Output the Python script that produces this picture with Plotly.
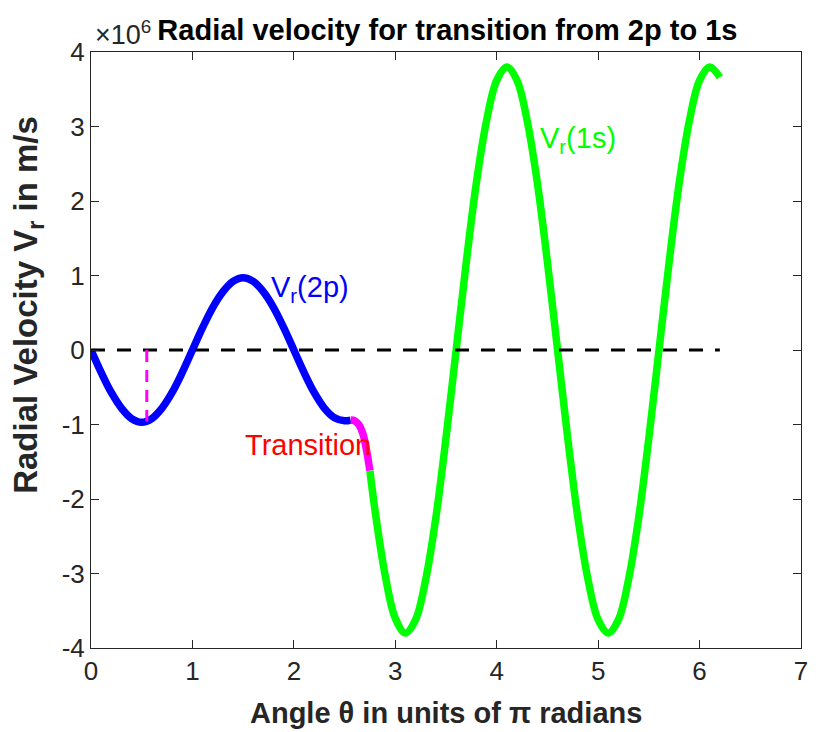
import plotly.graph_objects as go

# Angle in units of pi radians; radial velocity in units of 1e6 m/s
theta_2p = [0.0, 0.1, 0.2, 0.3, 0.4, 0.5, 0.6, 0.7, 0.8, 0.9, 1.0, 1.1, 1.2, 1.3,
            1.4, 1.5, 1.6, 1.7, 1.8, 1.9, 2.0, 2.1, 2.2, 2.3, 2.4, 2.5, 2.56]
vr_2p = [0.00, -0.30, -0.57, -0.78, -0.92, -0.97, -0.92, -0.78, -0.57, -0.30, 0.00,
         0.30, 0.57, 0.78, 0.92, 0.97, 0.92, 0.78, 0.57, 0.30, 0.00,
         -0.30, -0.57, -0.78, -0.91, -0.95, -0.94]

theta_tr = [2.56, 2.60, 2.64, 2.68, 2.71, 2.73, 2.75]
vr_tr = [-0.94, -0.95, -1.00, -1.12, -1.30, -1.45, -1.62]

theta_1s = [2.75, 2.8, 2.9, 3.0, 3.1, 3.2, 3.3, 3.4, 3.5, 3.6, 3.7, 3.8, 3.9, 4.0,
            4.1, 4.2, 4.3, 4.4, 4.5, 4.6, 4.7, 4.8, 4.9, 5.0, 5.1, 5.2, 5.3, 5.4,
            5.5, 5.6, 5.7, 5.8, 5.9, 6.0, 6.1, 6.2]
vr_1s = [-1.62, -2.15, -3.02, -3.60, -3.80, -3.62, -3.08, -2.25, -1.18, 0.00,
         1.18, 2.25, 3.08, 3.62, 3.80, 3.62, 3.08, 2.25, 1.18, 0.00,
         -1.18, -2.25, -3.08, -3.62, -3.80, -3.62, -3.08, -2.25, -1.18, 0.00,
         1.18, 2.25, 3.08, 3.62, 3.80, 3.66]

zero_x = [0.0, 6.2]
zero_y = [0.0, 0.0]
min_marker_x = [0.55, 0.55]
min_marker_y = [0.0, -0.96]

x_ticks = [0, 1, 2, 3, 4, 5, 6, 7]
y_ticks = [-4, -3, -2, -1, 0, 1, 2, 3, 4]

FONT = "Liberation Sans, Arial, Helvetica, sans-serif"
AXC = "#262626"

fig = go.Figure()
fig.add_trace(go.Scatter(x=theta_2p, y=vr_2p, mode="lines", line_shape="spline",
                         line=dict(color="#0000FF", width=7.5)))
fig.add_trace(go.Scatter(x=theta_tr, y=vr_tr, mode="lines", line_shape="spline",
                         line=dict(color="#FF00FF", width=7.5)))
fig.add_trace(go.Scatter(x=theta_1s, y=vr_1s, mode="lines", line_shape="spline",
                         line=dict(color="#00FF00", width=7.5)))
fig.add_trace(go.Scatter(x=zero_x, y=zero_y, mode="lines",
                         line=dict(color="#000000", width=3, dash="14px,12px")))
fig.add_trace(go.Scatter(x=min_marker_x, y=min_marker_y, mode="lines",
                         line=dict(color="#FF00FF", width=3, dash="12px,8px")))

axis_common = dict(showgrid=False, zeroline=False, showline=True, mirror="ticks",
                   linecolor=AXC, linewidth=1, ticks="inside", ticklen=8,
                   tickcolor=AXC, tickfont=dict(family=FONT, size=26, color=AXC))
fig.update_xaxes(range=[0, 7], tickvals=x_ticks, ticktext=[str(v) for v in x_ticks],
                 **axis_common)
fig.update_yaxes(range=[-4, 4], tickvals=y_ticks, ticktext=[str(v) for v in y_ticks],
                 **axis_common)

ann_font = dict(family=FONT, size=29)
fig.add_annotation(x=1.75, y=0.82, xref="x", yref="y", text="V<sub>r</sub>(2p)",
                   showarrow=False, xanchor="left", yanchor="middle",
                   font=dict(color="#0000FF", **ann_font))
fig.add_annotation(x=1.50, y=-1.28, xref="x", yref="y", text="Transition",
                   showarrow=False, xanchor="left", yanchor="middle",
                   font=dict(color="#FF0000", **ann_font))
fig.add_annotation(x=4.41, y=2.82, xref="x", yref="y", text="V<sub>r</sub>(1s)",
                   showarrow=False, xanchor="left", yanchor="middle",
                   font=dict(color="#00FF00", **ann_font))

# exponent label for the y axis
fig.add_annotation(x=0.003, y=1.032, xref="paper", yref="paper",
                   text="\u00d710<sup>6</sup>", showarrow=False,
                   xanchor="left", yanchor="middle",
                   font=dict(family=FONT, size=27, color=AXC))
# axis titles
fig.add_annotation(x=0.5, y=-0.109, xref="paper", yref="paper",
                   text="<b>Angle \u03b8 in units of \u03c0 radians</b>", showarrow=False,
                   xanchor="center", yanchor="middle",
                   font=dict(family=FONT, size=29, color=AXC))
fig.add_annotation(x=-0.088, y=0.575, xref="paper", yref="paper",
                   text="<b>Radial Velocity V<sub>r</sub> in m/s</b>", showarrow=False,
                   textangle=-90, xanchor="center", yanchor="middle",
                   font=dict(family=FONT, size=33, color=AXC))

fig.update_layout(
    width=818, height=732,
    margin=dict(l=91, r=10, t=52, b=84),
    paper_bgcolor="white", plot_bgcolor="white",
    showlegend=False,
    title=dict(text="<b>Radial velocity for transition from 2p to 1s</b>",
               x=0.502, xref="paper", y=0.959, yref="container",
               xanchor="center", yanchor="middle",
               font=dict(family=FONT, size=29, color="#000000")),
)

fig.write_html("out.html")
